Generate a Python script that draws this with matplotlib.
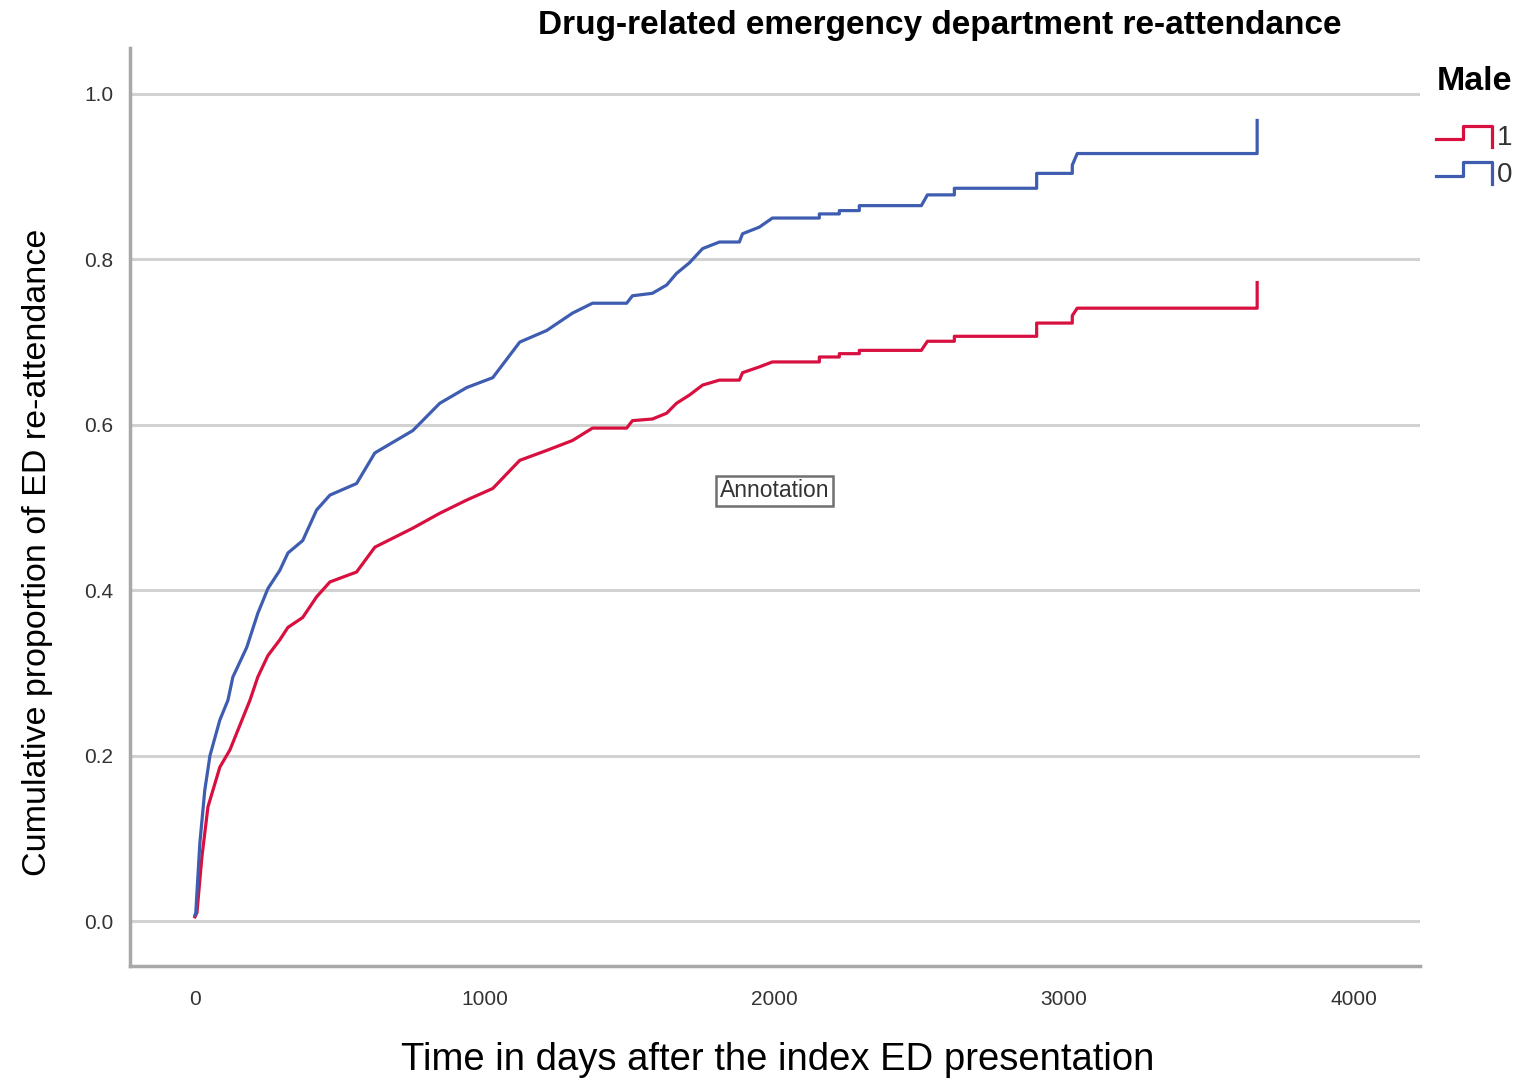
import numpy as np
import matplotlib
matplotlib.use("Agg")
import matplotlib.pyplot as plt
from matplotlib.legend_handler import HandlerLine2D
from matplotlib.lines import Line2D

# cumulative re-attendance, female (Male = 0)
female_days = [0, 3, 17, 34, 52, 86, 114, 131, 179, 217, 252, 293, 321, 372, 420,
               466, 558, 621, 752, 845, 938, 1028, 1121, 1214, 1303, 1372, 1490,
               1510, 1579, 1628, 1662, 1707, 1752, 1810, 1879, 1890, 1948, 1993,
               2155, 2155, 2224, 2224, 2293, 2293, 2507, 2528, 2621, 2621, 2905,
               2905, 3028, 3028, 3045, 3666, 3666]
female_cum = [0.007, 0.010, 0.094, 0.158, 0.200, 0.243, 0.267, 0.295, 0.331, 0.372,
              0.402, 0.424, 0.445, 0.460, 0.497, 0.515, 0.529, 0.566, 0.593, 0.626,
              0.645, 0.657, 0.700, 0.714, 0.735, 0.747, 0.747, 0.756, 0.759, 0.769,
              0.783, 0.796, 0.813, 0.821, 0.821, 0.831, 0.839, 0.850, 0.850, 0.855,
              0.855, 0.859, 0.859, 0.865, 0.865, 0.878, 0.878, 0.886, 0.886, 0.904,
              0.904, 0.914, 0.928, 0.928, 0.968]

# cumulative re-attendance, male (Male = 1)
male_days = [0, 7, 24, 45, 86, 121, 190, 217, 252, 293, 321, 372, 420, 466, 558,
             621, 752, 845, 938, 1028, 1121, 1214, 1303, 1372, 1490, 1510, 1579,
             1628, 1662, 1707, 1752, 1810, 1879, 1890, 1948, 1993, 2155, 2155,
             2224, 2224, 2293, 2293, 2507, 2528, 2621, 2621, 2905, 2905, 3028,
             3028, 3045, 3666, 3666]
male_cum = [0.005, 0.010, 0.077, 0.138, 0.186, 0.207, 0.267, 0.295, 0.321, 0.340,
            0.355, 0.367, 0.392, 0.410, 0.422, 0.452, 0.475, 0.493, 0.509, 0.523,
            0.557, 0.569, 0.581, 0.596, 0.596, 0.605, 0.607, 0.614, 0.626, 0.636,
            0.648, 0.654, 0.654, 0.663, 0.670, 0.676, 0.676, 0.682, 0.682, 0.686,
            0.686, 0.690, 0.690, 0.701, 0.701, 0.707, 0.707, 0.723, 0.723, 0.732,
            0.741, 0.741, 0.772]

x_ticks = [0, 1000, 2000, 3000, 4000]
y_ticks = [0.0, 0.2, 0.4, 0.6, 0.8, 1.0]

RED = "#d8103f"
BLUE = "#3f5db0"
FONT = "Liberation Sans"

plt.rcParams["font.family"] = FONT


class StepHandler(HandlerLine2D):
    # legend icon drawn as a little step, like the curves
    def create_artists(self, legend, orig_handle, xdescent, ydescent,
                       width, height, fontsize, trans):
        xs = np.array([0.0, 0.48, 0.48, 1.0, 1.0]) * width - xdescent
        ys = np.array([0.3, 0.3, 1.0, 1.0, -0.1]) * height - ydescent
        line = Line2D(xs, ys, color=orig_handle.get_color(),
                      lw=orig_handle.get_linewidth())
        line.set_transform(trans)
        return [line]


fig = plt.figure(figsize=(15.19, 10.81), dpi=100)
ax = fig.add_axes([130 / 1519, 1 - 966 / 1081, 1290 / 1519, 918 / 1081])

ax.set_xlim(-224, 4228)
ax.set_ylim(-0.0544, 1.0556)
ax.set_xticks(x_ticks)
ax.set_yticks(y_ticks)
ax.set_yticklabels([f"{v:.1f}" for v in y_ticks])
ax.tick_params(length=0, labelsize=15, labelcolor="#333333")
ax.tick_params(axis="x", pad=17)
ax.tick_params(axis="y", pad=12)

ax.grid(axis="y", color="#d2d2d2", lw=2.2)
ax.set_axisbelow(True)
for side in ["top", "right"]:
    ax.spines[side].set_visible(False)
for side in ["left", "bottom"]:
    ax.spines[side].set_color("#a8a8a8")
    ax.spines[side].set_linewidth(2.5)

l1, = ax.plot(male_days, male_cum, color=RED, lw=2.3, label="1")
l0, = ax.plot(female_days, female_cum, color=BLUE, lw=2.3, label="0")

ax.text(2000, 0.52, "Annotation", ha="center", va="center", fontsize=16.5,
        color="#333333",
        bbox=dict(boxstyle="square,pad=0.15", fc="white", ec="#707070", lw=1.8))

ax.set_xlabel("Time in days after the index ED presentation", fontsize=27.5,
              va="center")
ax.xaxis.set_label_coords(0.502, -0.1024)
ax.set_ylabel("Cumulative proportion of ED re-attendance", fontsize=24.5,
              va="center")
ax.yaxis.set_label_coords(-0.072, 0.451)
ax.set_title("Drug-related emergency department re-attendance", fontsize=24,
             fontweight="bold", x=0.628, y=1.024, va="center", pad=0)

fig.text(1437 / 1519, 1 - 82 / 1081, "Male", fontsize=24.5, fontweight="bold",
         ha="left", va="center")
leg = fig.legend(handles=[l1, l0], loc="upper left",
                 bbox_to_anchor=(1436 / 1519, 1 - 125 / 1081), frameon=False,
                 borderpad=0, borderaxespad=0,
                 handlelength=2.0, handletextpad=0.2, labelspacing=0.38,
                 prop={"size": 20},
                 handler_map={Line2D: StepHandler()})
for t in leg.get_texts():
    t.set_color("#333333")

fig.savefig("out.png", dpi=100)
